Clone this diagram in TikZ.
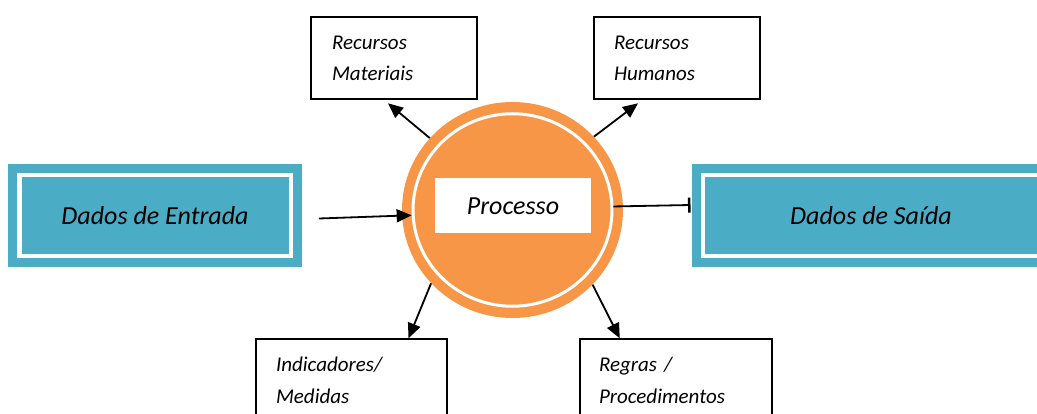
\documentclass[tikz,border=0pt]{standalone}
\usepackage{fontspec}
\setmainfont{Carlito}
\usetikzlibrary{arrows.meta,shapes.geometric,calc}
\definecolor{aqua}{HTML}{4BACC6}
\definecolor{orng}{HTML}{F79646}
\begin{document}
\begin{tikzpicture}[x=1pt,y=-1pt,
  bigtxt/.style={font=\fontsize{26}{31}\selectfont\itshape},
  smalltxt/.style={font=\fontsize{21}{31.5}\selectfont\itshape},
  databox/.style={rectangle, draw=white, line width=4.5pt, fill=aqua,
    preaction={draw=aqua, line width=22.5pt}, inner sep=0pt, bigtxt},
  resbox/.style={rectangle, draw=black, line width=2pt, fill=white,
    inner ysep=0pt, minimum height=82pt, align=left, smalltxt, anchor=north west},
  arr/.style={line width=1.8pt, -{Triangle[length=15pt,width=13pt]}},
]
\useasboundingbox (0,0) rectangle (1037,414);
\clip (0,0) rectangle (1037,414);

% data boxes
\node[databox, minimum width=271.5pt, minimum height=81pt] (in) at (155,215.5) {Dados de Entrada};
\node[databox, minimum width=336pt, minimum height=81pt] (out) at (871,215.5) {Dados de Saída};

% process circle
\node[ellipse, fill=orng, minimum width=221pt, minimum height=216pt, inner sep=0pt] (circ) at (512.5,210) {};
\node[ellipse, draw=white, line width=3pt, minimum width=199pt, minimum height=192.5pt, inner sep=0pt] (ring) at (512.5,210) {};
\node[rectangle, fill=white, minimum width=156pt, minimum height=55pt, inner sep=0pt, bigtxt] (proc) at (513,205.8) {Processo};

% resource boxes
\node[resbox, inner xsep=21pt, text width=124pt] (tl) at (310,16.3) {Recursos\\Materiais};
\node[resbox, inner xsep=20pt, text width=126pt] (tr) at (593,16.3) {Recursos\\Humanos};
\node[resbox, inner xsep=20pt, text width=151pt] (bl) at (255,338.3) {Indicadores/\\Medidas};
\node[resbox, inner xsep=19.5pt, text width=153.5pt] (br) at (578.5,338.3) {Regras /\\Procedimentos};

% connectors
\coordinate (inS) at ($(in.east)+(26,3)$);
\draw[arr] (inS) -- (ring.183);
\draw[line width=1.8pt, -{Bar[width=15pt,line width=2.5pt]}] (ring.2) -- ($(out.west)+(-10.25,-10.5)$);
\draw[arr] (circ.139) -- ($(tl.south)+(-6,3)$);
\draw[arr] (circ.42) -- ($(tr.south)+(-39,3)$);
\draw[arr] (circ.-138) -- ($(bl.north)+(57,0)$);
\draw[arr] (circ.-43.5) -- ($(br.north)+(-56,0)$);
\end{tikzpicture}
\end{document}
